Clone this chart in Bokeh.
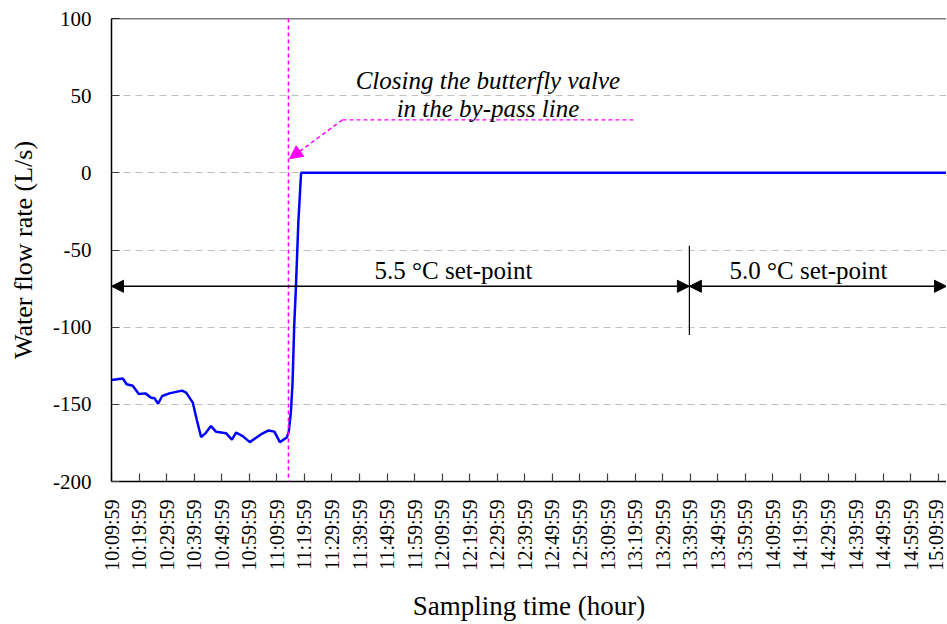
import math
from bokeh.plotting import figure
from bokeh.models import (ColumnDataSource, FixedTicker, Span, Arrow, NormalHead,
                          Label, Range1d)
from bokeh.embed import file_html
from bokeh.resources import INLINE

# time in minutes after 10:09:59, flow in L/s
t_min = [0, 4.1, 5.5, 7.7, 9.9, 12.3, 14.4, 15.6, 16.9, 18.4, 21.0, 25.6, 27.1,
         29.5, 30.9, 32.5, 34.1, 36.1, 37.9, 41.6, 43.7, 45.2, 47.6, 50.2, 54.2,
         57.0, 59.1, 61.1, 63.6, 64.3, 65.1, 65.7, 66.3, 66.9, 67.8, 68.8, 303.0]
flow = [-134.2, -133.3, -137.0, -138.0, -143.3, -142.9, -145.7, -146.0, -149.6,
        -144.6, -142.9, -141.1, -142.4, -148.9, -159.7, -171.2, -168.8, -164.1,
        -167.7, -168.8, -172.9, -168.4, -170.6, -174.5, -169.5, -166.9, -167.7,
        -174.5, -171.5, -168.0, -155.0, -136.0, -99.0, -75.0, -32.0, 0.0, 0.0]

tick_pos = list(range(0, 301, 10))
tick_labels = ["10:09:59", "10:19:59", "10:29:59", "10:39:59", "10:49:59", "10:59:59",
               "11:09:59", "11:19:59", "11:29:59", "11:39:59", "11:49:59", "11:59:59",
               "12:09:59", "12:19:59", "12:29:59", "12:39:59", "12:49:59", "12:59:59",
               "13:09:59", "13:19:59", "13:29:59", "13:39:59", "13:49:59", "13:59:59",
               "14:09:59", "14:19:59", "14:29:59", "14:39:59", "14:49:59", "14:59:59",
               "15:09:59"]
y_ticks = [-200, -150, -100, -50, 0, 50, 100]
y_tick_labels = ["-200", "-150", "-100", "-50", "0", "50", "100"]

valve_t = 64.2          # closing the by-pass valve
setpoint_change_t = 209.7
arrow_y = -73.5

FONT = "Liberation Serif"

p = figure(width=946, height=623, output_backend="svg", toolbar_location=None,
           x_range=Range1d(0, 303), y_range=Range1d(-200, 100),
           min_border_left=111, min_border_right=0, min_border_top=18,
           min_border_bottom=142)
p.outline_line_color = None
p.background_fill_color = "white"
p.border_fill_color = "white"

src = ColumnDataSource(dict(t=t_min, q=flow))
p.line("t", "q", source=src, line_color="#0000ff", line_width=2.5)

# axes
p.xaxis.ticker = FixedTicker(ticks=tick_pos)
p.xaxis.major_label_overrides = {k: v for k, v in zip(tick_pos, tick_labels)}
p.xaxis.major_label_orientation = math.pi / 2
p.xaxis.minor_tick_line_color = None
p.yaxis.ticker = FixedTicker(ticks=y_ticks)
p.yaxis.major_label_overrides = {k: v for k, v in zip(y_ticks, y_tick_labels)}
p.yaxis.minor_tick_line_color = None
for ax in (p.xaxis, p.yaxis):
    ax.axis_line_color = "black"
    ax.axis_line_width = 1.5
    ax.major_tick_line_color = "#404040"
    ax.major_tick_line_width = 1.2
    ax.major_tick_in = 8
    ax.major_tick_out = 0
    ax.major_label_text_font = FONT
    ax.major_label_text_color = "black"
    ax.axis_label_text_font = FONT
    ax.axis_label_text_font_style = "normal"
    ax.axis_label_text_color = "black"
p.xaxis.major_label_text_font_size = "20px"
p.yaxis.major_label_text_font_size = "21px"
p.xaxis.axis_label_text_font_size = "27px"
p.yaxis.axis_label_text_font_size = "26px"
p.xaxis.major_label_standoff = 18
p.yaxis.major_label_standoff = 20
p.xaxis.axis_label = "Sampling time (hour)"
p.yaxis.axis_label = "Water flow rate (L/s)"
p.xaxis.axis_label_standoff = 17
p.yaxis.axis_label_standoff = 12

p.xgrid.grid_line_color = None
p.ygrid.ticker = FixedTicker(ticks=[-150, -100, -50, 0, 50])
p.ygrid.grid_line_color = "#c0c0c0"
p.ygrid.grid_line_dash = "7 5"
p.ygrid.grid_line_width = 1

# top border
p.add_layout(Span(location=100, dimension="width", line_color="black", line_width=1.5))

# valve closing marker
p.add_layout(Span(location=valve_t, dimension="height", line_color="#ff00ff",
                  line_width=1.5, line_dash="4 3"))
p.line([83.8, 190.1], [34.3, 34.3], line_color="#ff00ff", line_width=1.2, line_dash="4 3")
p.add_layout(Arrow(end=NormalHead(size=13, fill_color="#ff00ff", line_color="#ff00ff"),
                   x_start=83.8, y_start=34.3, x_end=64.6, y_end=9.1,
                   line_color="#ff00ff", line_width=1.5, line_dash="4 3"))
p.add_layout(Label(x=136.6, y=59.6, text="Closing the butterfly valve",
                   text_align="center", text_baseline="alphabetic",
                   text_font=FONT, text_font_style="italic", text_font_size="25px",
                   text_color="black"))
p.add_layout(Label(x=136.6, y=41.5, text="in the by-pass line",
                   text_align="center", text_baseline="alphabetic",
                   text_font=FONT, text_font_style="italic", text_font_size="25px",
                   text_color="black"))

# set-point periods
p.line([setpoint_change_t, setpoint_change_t], [-47.3, -105], line_color="black",
       line_width=1.2)
for xs, xe in ((0, setpoint_change_t), (setpoint_change_t, 303)):
    p.add_layout(Arrow(start=NormalHead(size=12, fill_color="black", line_color="black"),
                       end=NormalHead(size=12, fill_color="black", line_color="black"),
                       x_start=xs, y_start=arrow_y, x_end=xe, y_end=arrow_y,
                       line_color="black", line_width=1.5))
p.add_layout(Label(x=124.1, y=-63.5, text="5.5 °C set-point", text_align="center",
                   text_baseline="alphabetic", text_font=FONT, text_font_size="25px",
                   text_color="black"))
p.add_layout(Label(x=252.9, y=-63.5, text="5.0 °C set-point", text_align="center",
                   text_baseline="alphabetic", text_font=FONT, text_font_size="25px",
                   text_color="black"))

open("out.html", "w").write(file_html(p, INLINE))
